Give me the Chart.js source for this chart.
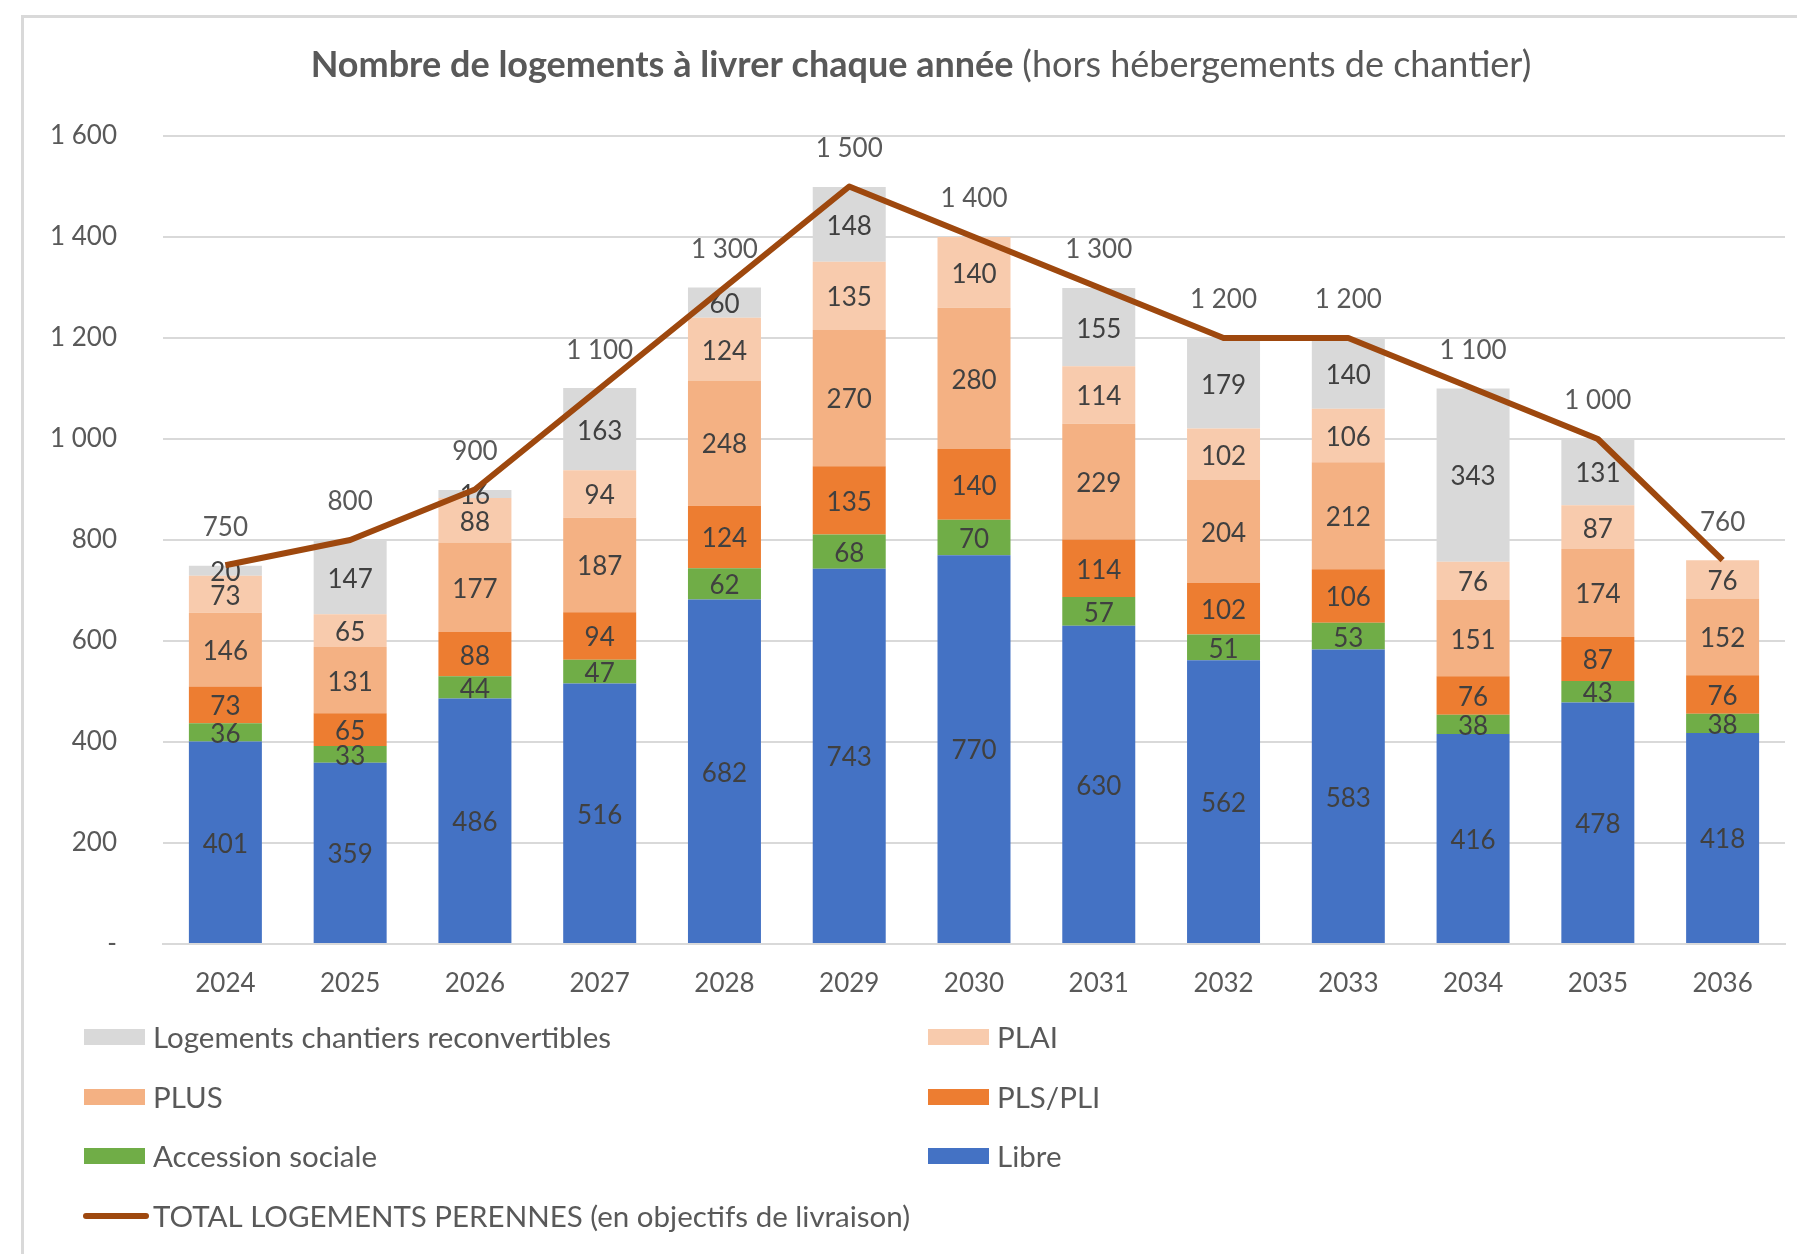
<!DOCTYPE html>
<html lang="fr">
<head>
<meta charset="utf-8">
<title>Nombre de logements à livrer chaque année</title>
<script src="https://cdn.jsdelivr.net/npm/chart.js@4.4.1/dist/chart.umd.min.js"></script>
<style>
  html, body { margin: 0; padding: 0; background: #fff; }
  #wrap { position: relative; width: 1797px; height: 1254px; overflow: hidden; }
  #frame { position: absolute; left: 21px; top: 15px; width: 1810px; height: 1300px;
           border: 3px solid #d9d9d9; box-sizing: border-box; }
  #chart { position: absolute; left: 0; top: 0; }
</style>
</head>
<body>
<div id="wrap">
  <div id="frame"></div>
  <canvas id="chart" width="1797" height="1254"></canvas>
</div>
<script>
// values
const years = ['2024', '2025', '2026', '2027', '2028', '2029', '2030', '2031', '2032', '2033', '2034', '2035', '2036'];
const libre      = [401, 359, 486, 516, 682, 743, 770, 630, 562, 583, 416, 478, 418];
const accession  = [36, 33, 44, 47, 62, 68, 70, 57, 51, 53, 38, 43, 38];
const plsPli     = [73, 65, 88, 94, 124, 135, 140, 114, 102, 106, 76, 87, 76];
const plus       = [146, 131, 177, 187, 248, 270, 280, 229, 204, 212, 151, 174, 152];
const plai       = [73, 65, 88, 94, 124, 135, 140, 114, 102, 106, 76, 87, 76];
const chantiers  = [20, 147, 16, 163, 60, 148, 0, 155, 179, 140, 343, 131, 0];
const totalPerennes = [750, 800, 900, 1100, 1300, 1500, 1400, 1300, 1200, 1200, 1100, 1000, 760];
const yTicks = [0, 200, 400, 600, 800, 1000, 1200, 1400, 1600];

const FONT = 'Lato, "Open Sans", sans-serif';
const TEXT = '#595959';

// "1 600" style, zero shown as "-"
function fmt(v) {
  if (v === 0) return '-';
  return String(v).replace(/\B(?=(\d{3})+(?!\d))/g, ' ');
}

const labelsPlugin = {
  id: 'labelsPlugin',
  // segment values go under the line, so draw them just before it
  beforeDatasetDraw(chart, args) {
    if (args.meta.type !== 'line') return;
    const ctx = chart.ctx;
    ctx.save();
    ctx.font = '26px ' + FONT;
    ctx.fillStyle = '#404040';
    ctx.textAlign = 'center';
    ctx.textBaseline = 'middle';
    chart.data.datasets.forEach((ds, i) => {
      if (ds.type === 'line') return;
      const meta = chart.getDatasetMeta(i);
      meta.data.forEach((bar, j) => {
        const v = ds.data[j];
        if (!v) return;
        const p = bar.getProps(['x', 'y', 'base'], true);
        ctx.fillText(fmt(v), p.x, (p.y + p.base) / 2 + 2);
      });
    });
    ctx.restore();
  },
  afterDatasetsDraw(chart) {
    const ctx = chart.ctx;
    const idx = chart.data.datasets.findIndex(d => d.type === 'line');
    const meta = chart.getDatasetMeta(idx);
    ctx.save();
    ctx.font = '26px ' + FONT;
    ctx.fillStyle = TEXT;
    ctx.textAlign = 'center';
    ctx.textBaseline = 'middle';
    meta.data.forEach((pt, j) => {
      ctx.fillText(fmt(chart.data.datasets[idx].data[j]), pt.x, pt.y - 38);
    });
    ctx.restore();
  },
  afterDraw(chart) {
    const ctx = chart.ctx;
    ctx.save();
    // title: bold part + normal part
    const bold = 'Nombre de logements à livrer chaque année ';
    const normal = '(hors hébergements de chantier)';
    ctx.textBaseline = 'middle';
    ctx.fillStyle = TEXT;
    ctx.font = 'bold 36px ' + FONT;
    const wb = ctx.measureText(bold).width;
    ctx.font = '36px ' + FONT;
    const wn = ctx.measureText(normal).width;
    const x0 = 921 - (wb + wn) / 2;
    ctx.textAlign = 'left';
    ctx.font = 'bold 36px ' + FONT;
    ctx.fillText(bold, x0, 65);
    ctx.font = '36px ' + FONT;
    ctx.fillText(normal, x0 + wb, 65);

    // legend, two columns like the original
    const ds = chart.data.datasets;
    const grid = [[5, 4], [3, 2], [1, 0], [6]];
    const rowsY = [1037, 1097, 1156, 1216];
    const colsX = [84, 928];
    ctx.font = '29.5px ' + FONT;
    grid.forEach((row, r) => {
      row.forEach((di, c) => {
        const d = ds[di];
        const x = colsX[c];
        const y = rowsY[r];
        if (d.type === 'line') {
          ctx.strokeStyle = d.borderColor;
          ctx.lineWidth = 6;
          ctx.lineCap = 'round';
          ctx.beginPath();
          ctx.moveTo(x + 2, y);
          ctx.lineTo(x + 62, y);
          ctx.stroke();
        } else {
          ctx.fillStyle = d.backgroundColor;
          ctx.fillRect(x, y - 8, 61, 16);
        }
        ctx.fillStyle = TEXT;
        ctx.fillText(d.label, x + 69, y + 1);
      });
    });
    ctx.restore();
  }
};

const barBase = { type: 'bar', stack: 'logements', order: 1, borderWidth: 0 };

new Chart(document.getElementById('chart'), {
  data: {
    labels: years,
    datasets: [
      { ...barBase, label: 'Libre', data: libre, backgroundColor: '#4472c4' },
      { ...barBase, label: 'Accession sociale', data: accession, backgroundColor: '#70ad47' },
      { ...barBase, label: 'PLS/PLI', data: plsPli, backgroundColor: '#ed7d31' },
      { ...barBase, label: 'PLUS', data: plus, backgroundColor: '#f4b183' },
      { ...barBase, label: 'PLAI', data: plai, backgroundColor: '#f8cbad' },
      { ...barBase, label: 'Logements chantiers reconvertibles', data: chantiers, backgroundColor: '#d9d9d9' },
      {
        type: 'line',
        label: 'TOTAL LOGEMENTS PERENNES (en objectifs de livraison)',
        data: totalPerennes,
        stack: 'total',
        order: 0,
        borderColor: '#9e480e',
        backgroundColor: '#9e480e',
        borderWidth: 6,
        borderJoinStyle: 'round',
        pointRadius: 0,
        tension: 0
      }
    ]
  },
  options: {
    responsive: false,
    animation: false,
    events: [],
    layout: { padding: { left: 0, right: 12, top: 136, bottom: 250 } },
    datasets: { bar: { categoryPercentage: 1, barPercentage: 0.585 } },
    plugins: {
      legend: { display: false },
      title: { display: false },
      tooltip: { enabled: false }
    },
    scales: {
      x: {
        stacked: true,
        grid: { display: false },
        border: { display: true, color: '#d9d9d9', width: 2 },
        ticks: { color: TEXT, font: { family: FONT, size: 26 }, padding: 16 },
        afterFit: s => { s.height = 60; }
      },
      y: {
        stacked: true,
        min: 0,
        max: 1600,
        afterBuildTicks: s => { s.ticks = yTicks.map(v => ({ value: v })); },
        grid: { color: '#d9d9d9', lineWidth: 2, drawTicks: false },
        border: { display: false },
        ticks: {
          color: TEXT,
          font: { family: FONT, size: 26 },
          padding: 46,
          callback: v => fmt(v)
        },
        afterFit: s => { s.width = 163; }
      }
    }
  },
  plugins: [labelsPlugin]
});
</script>
</body>
</html>
